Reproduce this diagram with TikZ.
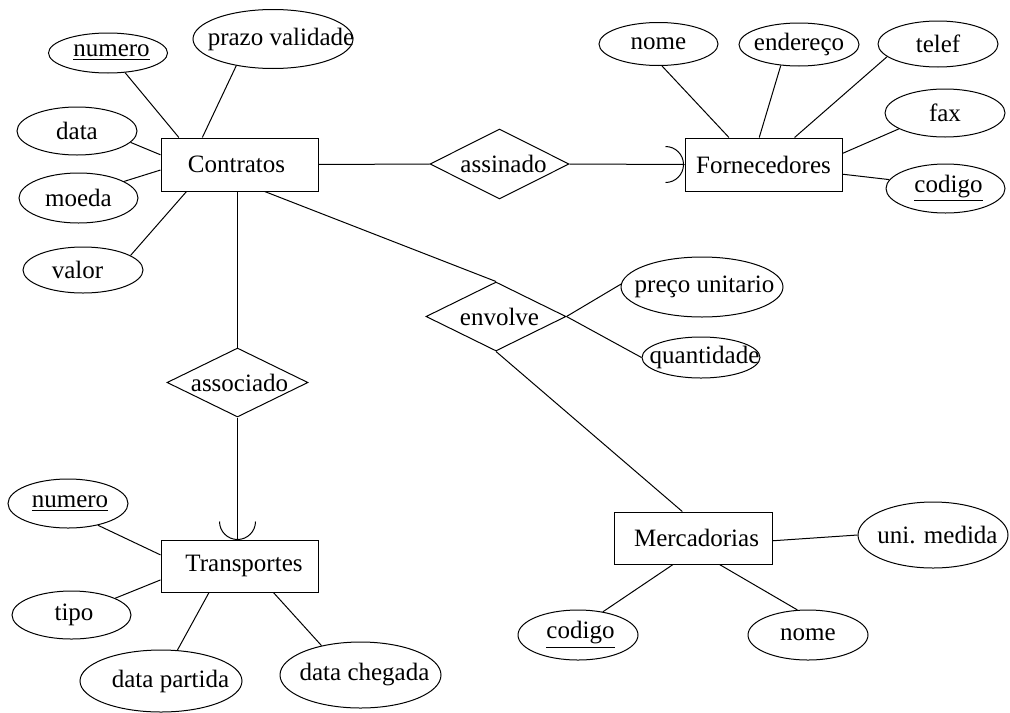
\documentclass[tikz,border=0pt]{standalone}
\usepackage{fontspec}
\setmainfont{Liberation Serif}
\usetikzlibrary{shapes.geometric}
\newcommand\ertx[2][0pt]{\makebox[0pt]{\kern#1\relax#2}}
\tikzset{
  ent/.style={draw, rectangle, inner sep=0pt},
  att/.style={draw, ellipse, inner sep=0pt},
  rel/.style={draw, diamond, inner sep=0pt},
  sz/.style 2 args={minimum width=#1, minimum height=#2},
}
\begin{document}
\begin{tikzpicture}[x=0.5pt, y=-0.5pt, line width=0.5pt, font=\fontsize{12.5}{15}\selectfont]
\useasboundingbox (0,0) rectangle (1010,712);
% entities
\node[ent, sz={78.5pt}{26.5pt}] (C) at (239.5,164.5) {\ertx[-3pt]{Contratos}};
\node[ent, sz={78.5pt}{26.5pt}] (F) at (763.5,164.5) {\ertx{Fornecedores}};
\node[ent, sz={78.5pt}{26pt}] (T) at (239.5,566) {\ertx[4.5pt]{Transportes}};
\node[ent, sz={79pt}{26pt}] (M) at (693,538) {\ertx[3.5pt]{Mercadorias}};
% relationships
\node[rel, sz={69.5pt}{35pt}] (A) at (499.5,164) {\ertx[4pt]{assinado}};
\node[rel, sz={70.5pt}{34.5pt}] (S) at (237.5,382.5) {\ertx[2pt]{associado}};
\node[rel, sz={70pt}{34.5pt}] (E) at (496,316.5) {\ertx[3.5pt]{envolve}};
% Contratos attributes
\node[att, sz={59.5pt}{20pt}] (cnum) at (108,53) {\ertx[3.5pt]{\underline{numero}}};
\node[att, sz={80pt}{29.5pt}] (prazo) at (273,39) {\ertx[8pt]{prazo validade}};
\node[att, sz={60pt}{24pt}] (data) at (77,131) {\ertx{data}};
\node[att, sz={59.5pt}{25pt}] (moeda) at (78.5,198) {\ertx{moeda}};
\node[att, sz={60pt}{23pt}] (valor) at (83,270) {\ertx[-5.5pt]{valor}};
% Fornecedores attributes
\node[att, sz={59.5pt}{21.5pt}] (fnome) at (658.5,44) {\ertx{nome}};
\node[att, sz={60pt}{21.5pt}] (fend) at (799,44.5) {\ertx{endereço}};
\node[att, sz={60pt}{23pt}] (ftel) at (938,44) {\ertx{telef}};
\node[att, sz={60pt}{24pt}] (ffax) at (945,113) {\ertx{fax}};
\node[att, sz={59.5pt}{24.5pt}] (fcod) at (945.5,188.5) {\ertx[3pt]{\underline{codigo}}};
% Transportes attributes
\node[att, sz={60pt}{24.5pt}] (tnum) at (68,503.5) {\ertx[2pt]{\underline{numero}}};
\node[att, sz={59.5pt}{24pt}] (tipo) at (71.5,615) {\ertx[2.5pt]{tipo}};
\node[att, sz={81pt}{31pt}] (tpart) at (161,681) {\ertx[9.5pt]{data partida}};
\node[att, sz={80.5pt}{33pt}] (tcheg) at (360.5,675) {\ertx[4pt]{data chegada}};
% Mercadorias attributes
\node[att, sz={75pt}{33pt}] (uni) at (933,535) {\ertx[4.5pt]{uni. medida}};
\node[att, sz={60pt}{25pt}] (mcod) at (578,635) {\ertx[2.5pt]{\underline{codigo}}};
\node[att, sz={60pt}{25pt}] (mnome) at (808,635) {\ertx{nome}};
% envolve attributes
\node[att, sz={81pt}{30pt}] (preco) at (702,287) {\ertx[2.5pt]{preço unitario}};
\node[att, sz={59pt}{20.5pt}] (quant) at (701,357.5) {\ertx[3.5pt]{quantidade}};
% connectors: Contratos
\draw (cnum.-49.4) -- (C.156.7);
\draw (prazo.-144.9) -- (C.144.8);
\draw (data.-12.1) -- (C.173.1);
\draw (moeda.20.8) -- (C.184);
\draw (valor.17.7) -- (C.207.2);
\draw (C.east) -- (A.west);
\draw (A.east) -- (F.west);
\coordinate (fa) at ([xshift=-9.5pt,yshift=9pt]F.west);
\draw (fa) arc[start angle=90, end angle=-90, radius=9pt];
% Fornecedores
\draw (fnome.-81.3) -- (F.142.5);
\draw (fend.-131.1) -- (F.99.6);
\draw (ftel.-166.5) -- (F.41.9);
\draw (ffax.-161.2) -- (F.8.3);
\draw (fcod.171.9) -- (F.353.8);
% envolve
\draw (C.313.9) -- (E.north);
\draw (E.east) -- (preco.178.6);
\draw (E.east) -- (quant.180);
\draw (E.south) -- (M.112.9);
% Mercadorias
\draw (uni.180) -- (M.358.5);
\draw (mcod.43.9) -- (M.233.8);
\draw (mnome.113.7) -- (M.315);
% associado
\draw (S.north) -- (S.north |- C.south);
\coordinate (tn) at (S.south |- T.north);
\draw (S.south) -- (tn);
\coordinate (ta) at ([xshift=-9pt,yshift=9pt]tn);
\draw (ta) arc[start angle=180, end angle=360, radius=9pt];
% Transportes
\draw (tnum.-36.9) -- (T.172.7);
\draw (tipo.21.8) -- (T.190.1);
\draw (tpart.62.7) -- (T.221.4);
\draw (tcheg.143.3) -- (T.322.2);
\end{tikzpicture}
\end{document}
